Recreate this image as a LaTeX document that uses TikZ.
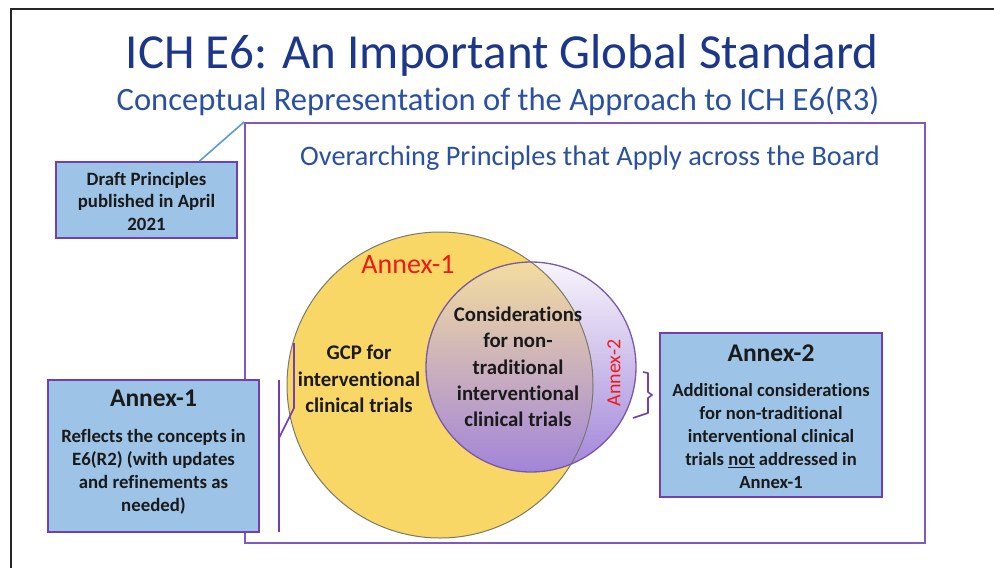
\documentclass[tikz,border=0pt]{standalone}
\usepackage{fontspec}
\setmainfont{Carlito}[Ligatures=NoCommon]
\usetikzlibrary{fadings,calc}

\definecolor{titleblue}{HTML}{1C368A}
\definecolor{subblue}{HTML}{2A50A2}
\definecolor{framepurple}{HTML}{8058C0}
\definecolor{boxpurple}{HTML}{7040B0}
\definecolor{boxfill}{HTML}{9DC3E6}
\definecolor{linkblue}{HTML}{5B9BD5}
\definecolor{annexyellow}{HTML}{F9D766}
\definecolor{annexpurple}{HTML}{A285DA}
\definecolor{veil}{HTML}{EDE6F6}
\definecolor{redtext}{HTML}{F01818}
\definecolor{bodytext}{HTML}{1A1A1A}
\definecolor{rimgray}{HTML}{7A7A6A}
\definecolor{rimpurple}{HTML}{7A58A8}

\tikzfading[name=annexfade, top color=transparent!100, middle color=transparent!78, bottom color=transparent!0]

\begin{document}
\begin{tikzpicture}[x=1pt,y=-1pt,
  infobox/.style={draw=boxpurple, line width=1.8pt, fill=boxfill, inner sep=0pt},
  boxhead/.style={text=bodytext, font=\bfseries\fontsize{25.5}{30}\selectfont, inner sep=0pt},
  boxbody/.style={text=bodytext, align=center, font=\bfseries\fontsize{18.8}{23}\selectfont, inner sep=0pt},
  circlelabel/.style={text=bodytext, align=center, font=\bfseries\fontsize{20.8}{26.3}\selectfont, inner sep=0pt},
  bracket/.style={draw=boxpurple, line width=1.6pt},
]
\useasboundingbox (0,0) rectangle (994,568);

% slide edge
\draw[line width=2.5pt, black!85] (11,568) -- (11,9) -- (994,9);

% headings
\node[text=titleblue, font=\fontsize{49}{56}\selectfont, inner sep=0pt] (title) at (502,55) {ICH E6: An Important Global Standard};
\node[text=subblue, font=\fontsize{32.6}{36}\selectfont, inner sep=0pt] (subtitle) at (498,101) {Conceptual Representation of the Approach to ICH E6(R3)};

% the board of overarching principles
\node[draw=framepurple, line width=2pt, minimum width=680pt, minimum height=420pt, inner sep=0pt] (board) at (585,333) {};
\node[text=subblue, font=\fontsize{28.3}{32}\selectfont, inner sep=0pt] (overarching) at (590,158) {Overarching Principles that Apply across the Board};

% Venn circles
\node[circle, fill=annexyellow, minimum size=306pt, inner sep=0pt] (annexone) at (440,385) {};
\fill[veil, fill opacity=0.4] (531,367) circle[radius=105];
\fill[annexpurple, path fading=annexfade] (531,367) circle[radius=105];
\node[circle, draw=rimgray, line width=1pt, minimum size=306pt, inner sep=0pt] (annexonerim) at (annexone.center) {};
\node[circle, draw=rimpurple, line width=1.3pt, minimum size=210pt, inner sep=0pt] (annextwo) at (531,367) {};

\node[text=redtext, font=\fontsize{28}{30}\selectfont, inner sep=0pt] (annexonelab) at (408,265) {Annex-1};
\node[circlelabel] (gcp) at (359,379) {GCP for\\interventional\\clinical trials};
\node[circlelabel] (consid) at (518,367) {Considerations\\for non-\\traditional\\interventional\\clinical trials};
\node[text=redtext, rotate=90, font=\fontsize{20}{22}\selectfont, inner sep=0pt] (annextwolab) at (614,373) {Annex-2};

% callout boxes
\node[infobox, minimum width=181pt, minimum height=76pt] (draft) at (146.5,200) {};
\node[boxbody, font=\bfseries\fontsize{18.8}{22.5}\selectfont] (drafttext) at (146.5,201) {Draft Principles\\published in April\\2021};

\node[infobox, minimum width=211pt, minimum height=152pt] (boxone) at (153.5,456) {};
\node[boxhead] (boxonehead) at (153.5,398) {Annex-1};
\node[boxbody] (boxonebody) at (153.5,472) {Reflects the concepts in\\E6(R2) (with updates\\and refinements as\\needed)};

\node[infobox, minimum width=222pt, minimum height=164pt] (boxtwo) at (771,415) {};
\node[boxhead] (boxtwohead) at (771,353) {Annex-2};
\node[boxbody, font=\bfseries\fontsize{18.6}{22.8}\selectfont] (boxtwobody) at (771,436) {Additional considerations\\for non-traditional\\interventional clinical\\trials \underline{not} addressed in\\Annex-1};

% link from the draft box to the board
\draw[linkblue, line width=1.6pt] ($(draft.north west)!0.79!(draft.north east)$) -- (board.north west);

% bracket on the left of the yellow circle
\coordinate (lbtop) at (294,343);
\coordinate (lbbend) at (294,408);
\coordinate (lbjoin) at (279,438);
\coordinate (lbup) at (279,380);
\coordinate (lbdown) at (279,532);
\draw[bracket] (lbup) -- (lbdown);
\draw[bracket] (lbjoin) -- (lbbend) -- (lbtop);

% brace on the right of the purple circle
\coordinate (rbtop) at (643,372);
\coordinate (rbtip) at (652,395);
\coordinate (rbend) at (633,418);
\draw[bracket, line join=round] (rbtop) -- (648,373) -- (648,392) -- (rbtip) -- (648,398) -- (648,413) -- (rbend);
\end{tikzpicture}
\end{document}
